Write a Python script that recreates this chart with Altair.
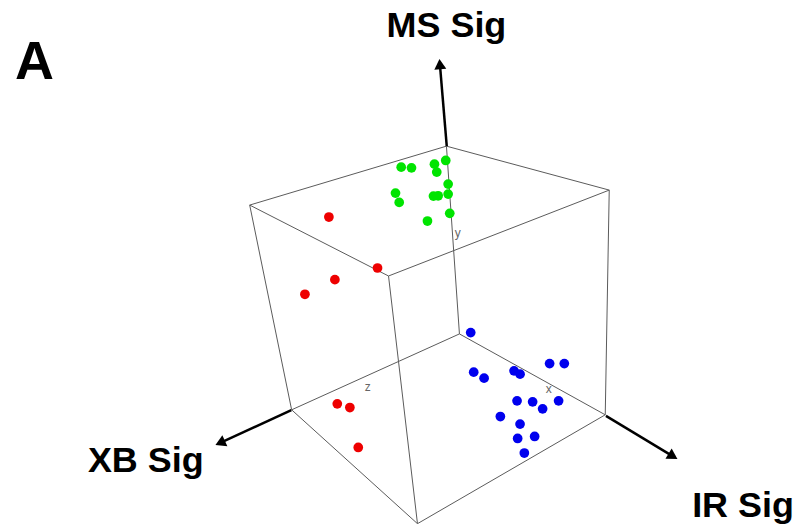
import math
import altair as alt
import pandas as pd

# ---- data (screen coordinates of the rendered 3D view) ----
green_x = [401.7, 412.0, 435.0, 437.3, 446.3, 448.7, 396.0, 399.7, 434.0, 438.7, 448.7, 450.3, 428.0]
green_y = [165.0, 165.7, 162.0, 170.0, 158.3, 182.0, 191.0, 200.3, 194.0, 193.7, 192.0, 211.3, 219.0]
red_x = [329.3, 378.0, 335.3, 305.3, 337.7, 350.3, 358.7]
red_y = [215.0, 266.0, 277.7, 292.3, 402.0, 405.7, 445.7]
blue_x = [471.3, 474.3, 484.7, 514.7, 520.7, 550.3, 565.0, 517.7, 533.3, 543.3, 559.3, 501.0, 520.7, 518.3, 535.3, 525.0]
blue_y = [330.7, 370.3, 376.3, 369.0, 372.3, 361.7, 361.7, 399.0, 400.0, 407.0, 399.0, 414.7, 422.3, 436.7, 434.7, 451.3]

groups = ["green", "red", "blue"]
group_colors = ["#00e400", "#ee0000", "#0000ee"]

vertex_names = ["top_back", "top_left", "top_right", "top_front",
                "bot_back", "bot_left", "bot_right", "bot_front"]
vertex_x = [447.0, 250.0, 610.0, 389.0, 460.0, 292.0, 606.0, 418.0]
vertex_y = [144.0, 203.0, 188.0, 274.0, 332.0, 408.0, 413.0, 522.0]
edges = [("top_back", "top_left"), ("top_back", "top_right"), ("top_left", "top_front"),
         ("top_right", "top_front"), ("bot_back", "bot_left"), ("bot_back", "bot_right"),
         ("bot_left", "bot_front"), ("bot_right", "bot_front"), ("top_back", "bot_back"),
         ("top_left", "bot_left"), ("top_right", "bot_right"), ("top_front", "bot_front")]

arrow_names = ["MS Sig", "XB Sig", "IR Sig"]
arrow_x0 = [447.3, 291.7, 606.7]
arrow_y0 = [144.0, 408.3, 414.0]
arrow_x1 = [440.0, 215.7, 678.3]
arrow_y1 = [56.7, 443.3, 457.3]

label_text = ["MS Sig", "XB Sig", "IR Sig"]
label_x = [387.0, 88.0, 693.0]
label_y = [35.0, 470.0, 515.0]

axis_letters = ["y", "z", "x"]
axis_letter_x = [458.3, 368.3, 549.3]
axis_letter_y = [230.7, 385.0, 386.7]

panel_letter = "A"
panel_x = [15.0]
panel_y = [76.7]

# ---- tables ----
pts = pd.DataFrame({
    "x": green_x + red_x + blue_x,
    "y": green_y + red_y + blue_y,
    "group": ["green"] * len(green_x) + ["red"] * len(red_x) + ["blue"] * len(blue_x),
})

vx = dict(zip(vertex_names, vertex_x))
vy = dict(zip(vertex_names, vertex_y))
edge_df = pd.DataFrame({
    "x": [vx[a] for a, b in edges], "y": [vy[a] for a, b in edges],
    "x2": [vx[b] for a, b in edges], "y2": [vy[b] for a, b in edges],
})

head_len = 10.4 / 2
hx, hy, ang = [], [], []
for x0, y0, x1, y1 in zip(arrow_x0, arrow_y0, arrow_x1, arrow_y1):
    dx, dy = x1 - x0, y1 - y0
    L = math.hypot(dx, dy)
    hx.append(x1 - dx / L * head_len)
    hy.append(y1 - dy / L * head_len)
    ang.append(math.degrees(math.atan2(dx, -dy)) % 360)
arrow_df = pd.DataFrame({"name": arrow_names, "x": arrow_x0, "y": arrow_y0,
                         "x2": hx, "y2": hy, "angle": ang})

label_df = pd.DataFrame({"text": label_text, "x": label_x, "y": label_y})
letter_df = pd.DataFrame({"text": axis_letters, "x": axis_letter_x, "y": axis_letter_y})
panel_df = pd.DataFrame({"text": [panel_letter], "x": panel_x, "y": panel_y})

W, H = 787, 508
xs = alt.Scale(domain=[8, 8 + W], nice=False, zero=False)
ys = alt.Scale(domain=[8, 8 + H], nice=False, zero=False, reverse=True)
X = lambda f="x": alt.X(f"{f}:Q", scale=xs, axis=None)
Y = lambda f="y": alt.Y(f"{f}:Q", scale=ys, axis=None)

cube = alt.Chart(edge_df).mark_rule(color="#5a5a5a", strokeWidth=1).encode(
    x=X(), y=Y(), x2="x2:Q", y2="y2:Q")

arrow_lines = alt.Chart(arrow_df).mark_rule(color="black", strokeWidth=2.5).encode(
    x=X(), y=Y(), x2="x2:Q", y2="y2:Q")
arrow_heads = alt.Chart(arrow_df).mark_point(
    shape="triangle-up", filled=True, color="black", size=144, opacity=1).encode(
    x=X("x2"), y=Y("y2"), angle=alt.Angle("angle:Q", scale=None))

points = alt.Chart(pts).mark_circle(size=95, opacity=1).encode(
    x=X(), y=Y(),
    color=alt.Color("group:N", scale=alt.Scale(domain=groups, range=group_colors), legend=None))

labels = alt.Chart(label_df).mark_text(
    font="Liberation Sans", fontWeight="bold", fontSize=36, align="left",
    baseline="alphabetic", color="black").encode(x=X(), y=Y(), text="text:N")

letters = alt.Chart(letter_df).mark_text(
    font="Liberation Sans", fontSize=12, color="#666666").encode(x=X(), y=Y(), text="text:N")

panel = alt.Chart(panel_df).mark_text(
    font="Liberation Sans", fontWeight="bold", fontSize=54, align="left",
    baseline="alphabetic", color="black").encode(x=X(), y=Y(), text="text:N")

chart = alt.layer(cube, letters, points, arrow_lines, arrow_heads, labels, panel).properties(
    width=W, height=H, padding=0
).configure_view(stroke=None)

chart.save("out.html", embed_options={"renderer": "svg", "actions": False})
